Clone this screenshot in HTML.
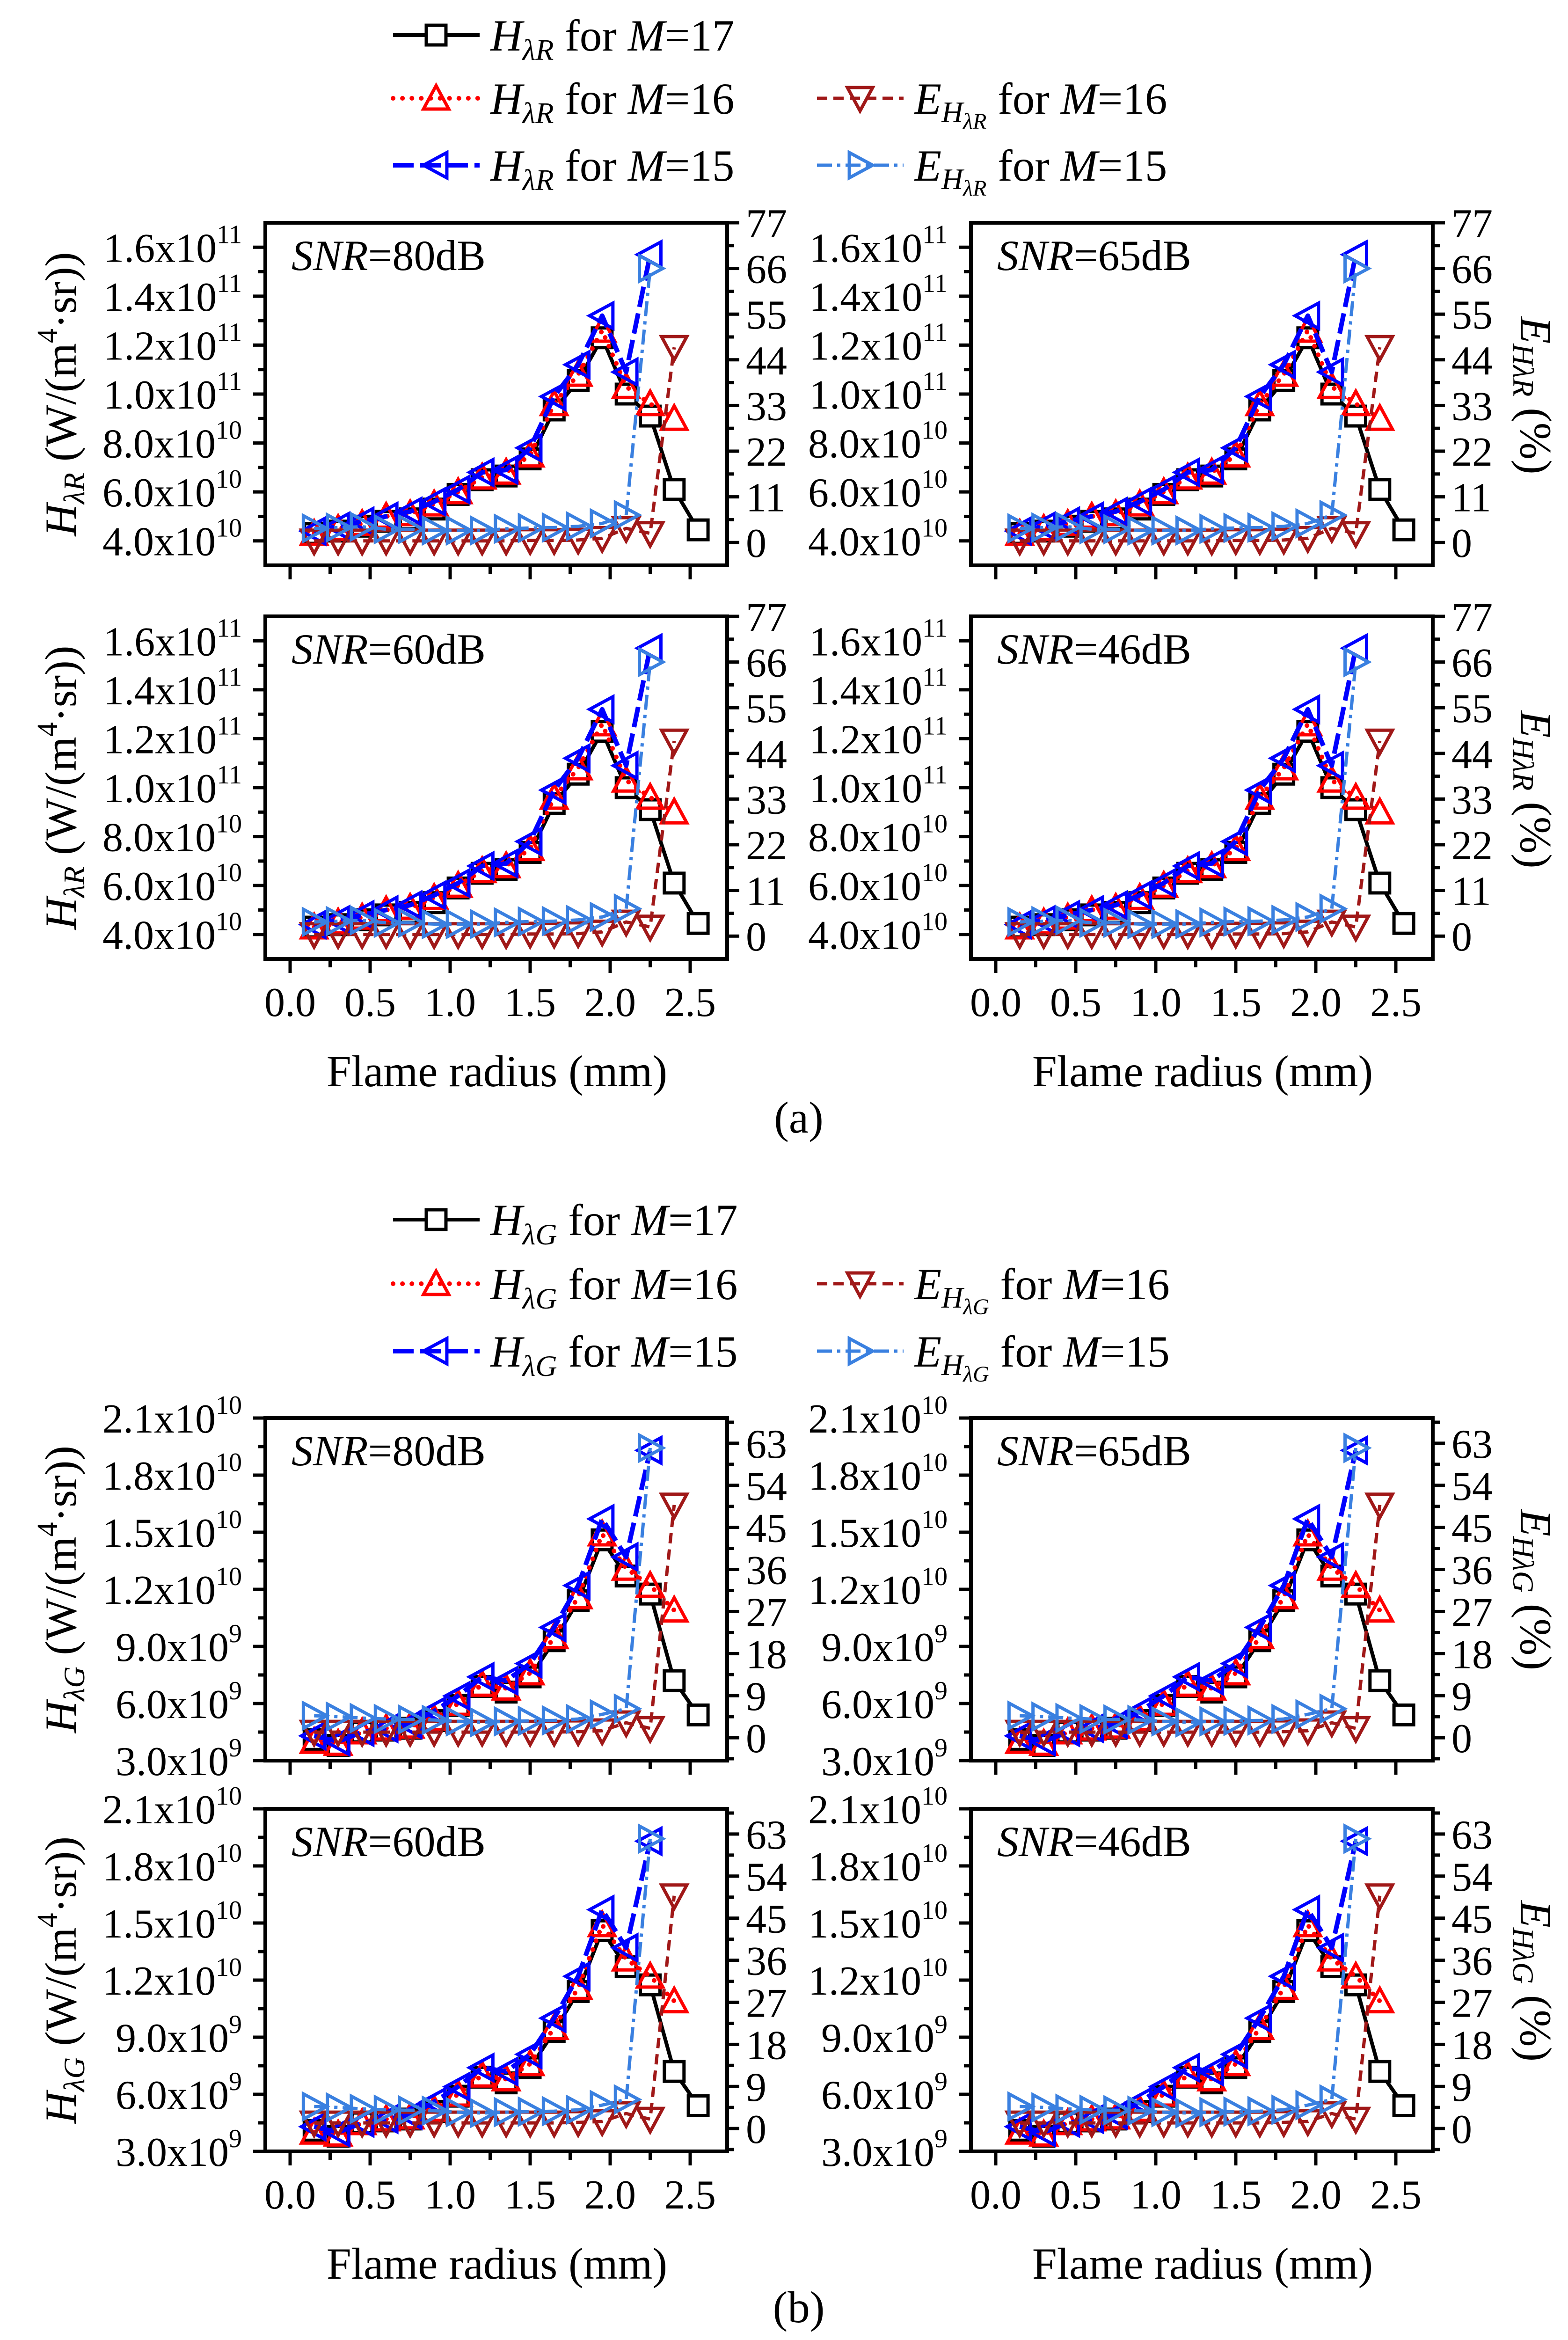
<!DOCTYPE html>
<html>
<head>
<meta charset="utf-8">
<style>
  html, body { margin: 0; padding: 0; background: #fff; overflow: hidden; }
  svg { display: block; }
  text { font-family: "Liberation Serif", "DejaVu Serif", serif; fill: #000; }
</style>
</head>
<body>
<svg id="fig" xmlns="http://www.w3.org/2000/svg" width="3351" height="5019" viewBox="0 0 3351 5019">
  <rect x="0" y="0" width="3351" height="5019" fill="#fff"/>
</svg>
<script>
// ---------- data ----------
const x17 = [0.15,0.30,0.45,0.60,0.75,0.90,1.05,1.20,1.35,1.50,1.65,1.80,1.95,2.10,2.25,2.40,2.55];
const x16 = [0.15,0.30,0.45,0.60,0.75,0.90,1.05,1.20,1.35,1.50,1.65,1.80,1.95,2.10,2.25,2.40];
const x15 = [0.15,0.30,0.45,0.60,0.75,0.90,1.05,1.20,1.35,1.50,1.65,1.80,1.95,2.10,2.25];

// (a) red channel, H in 1e10 W/(m4 sr), E in %
const aH17 = [4.3,4.4,4.6,4.8,4.9,5.3,5.9,6.5,6.65,7.35,9.35,10.55,12.3,10.0,9.1,6.1,4.45];
const aH16 = [4.3,4.5,4.7,5.0,5.1,5.5,6.0,6.6,6.8,7.5,9.6,10.8,12.6,10.3,9.6,9.0];
const aH15 = [4.4,4.6,4.8,5.0,5.2,5.6,6.1,6.8,6.9,7.8,9.9,11.2,13.2,10.9,15.7];
const aE16 = [0.4,0.4,0.4,0.4,0.4,0.4,0.4,0.4,0.4,0.5,0.5,0.6,1.0,3.4,2.2,47];
const aE15 = [3.4,3.6,3.8,3.2,3.2,2.9,2.9,2.9,3.3,3.5,3.6,3.9,4.6,6.6,66];

// (b) green channel, H in 1e9 W/(m4 sr), E in %
const bH17 = [4.1,3.8,4.5,4.6,4.7,5.1,5.9,6.9,6.6,7.4,9.3,11.4,14.6,12.7,11.75,7.2,5.4];
const bH16 = [4.0,3.9,4.5,4.7,4.8,5.2,6.0,7.0,6.8,7.6,9.5,11.6,14.9,13.1,12.2,10.9];
const bH15 = [4.3,4.0,4.5,4.7,4.9,5.6,6.4,7.4,7.2,8.1,10.0,12.2,15.7,13.7,19.3];
const bE16 = [1.2,1.2,1.2,1.2,1.2,1.2,1.2,1.2,1.2,1.2,1.2,1.3,1.5,3.2,2.0,49.8];
const bE15 = [4.7,4.5,4.2,4.0,3.9,3.8,3.5,3.3,3.5,3.6,3.7,4.0,5.0,6.2,62];

const snrLabels = ['80dB','65dB','60dB','46dB'];

const xTicks = [0.0,0.5,1.0,1.5,2.0,2.5];
const xTickLabels = ['0.0','0.5','1.0','1.5','2.0','2.5'];

const aLeftTicks = [4,6,8,10,12,14,16];
const aLeftMant = ['4.0','6.0','8.0','1.0','1.2','1.4','1.6'];
const aLeftExp = ['10','10','10','11','11','11','11'];
const aRightTicks = [0,11,22,33,44,55,66,77];

const bLeftTicks = [3,6,9,12,15,18,21];
const bLeftMant = ['3.0','6.0','9.0','1.2','1.5','1.8','2.1'];
const bLeftExp = ['9','9','9','10','10','10','10'];
const bRightTicks = [0,9,18,27,36,45,54,63];

// ---------- helpers ----------
const NS = 'http://www.w3.org/2000/svg';
const svg = document.getElementById('fig');
function el(tag, attrs, parent) {
  const e = document.createElementNS(NS, tag);
  for (const k in attrs) e.setAttribute(k, attrs[k]);
  (parent || svg).appendChild(e);
  return e;
}
const PW = 987, PH = 732;
const XD = [-0.155, 2.731];

function marker(g, type, cx, cy, color) {
  let m;
  const s = 21, t = 27;
  if (type === 'square') {
    m = el('rect', {x: cx - s, y: cy - s, width: 2*s, height: 2*s, fill: '#fff', stroke: color, 'stroke-width': 7}, g);
  } else {
    let pts;
    if (type === 'up') pts = [[cx, cy - t], [cx - t, cy + t*0.85], [cx + t, cy + t*0.85]];
    if (type === 'down') pts = [[cx, cy + t], [cx - t, cy - t*0.85], [cx + t, cy - t*0.85]];
    if (type === 'left') pts = [[cx - t, cy], [cx + t*0.85, cy - t], [cx + t*0.85, cy + t]];
    if (type === 'right') pts = [[cx + t, cy], [cx - t*0.85, cy - t], [cx - t*0.85, cy + t]];
    m = el('polygon', {points: pts.map(p => p.join(',')).join(' '), fill: 'none', stroke: color, 'stroke-width': 7, 'stroke-linejoin': 'miter'}, g);
  }
  return m;
}

const SERIES_STYLE = {
  h17: {color: '#000000', dash: null, w: 8, mk: 'square'},
  h16: {color: '#ff0000', dash: '0.1 20', w: 10, mk: 'up', cap: 'round'},
  h15: {color: '#0000ff', dash: '44 14', w: 10, mk: 'left'},
  e16: {color: '#a01818', dash: '22 13', w: 7, mk: 'down'},
  e15: {color: '#3a80e0', dash: '32 11 7 11', w: 7, mk: 'right'}
};

function panel(name, x0, y0, yDomL, yDomR, lt, lm, le, rt, rMinorStep, lMinorStep, snr, data, showXLabels) {
  const g = el('g', {});
  
  
  const sx = v => x0 + (v - XD[0]) / (XD[1] - XD[0]) * PW;
  const syL = v => y0 + PH - (v - yDomL[0]) / (yDomL[1] - yDomL[0]) * PH;
  const syR = v => y0 + PH - (v - yDomR[0]) / (yDomR[1] - yDomR[0]) * PH;

  const fr = el('rect', {x: x0, y: y0, width: PW, height: PH, fill: 'none', stroke: '#000', 'stroke-width': 8}, g);
  
  

  const xt = el('g', {}, g);
  
  
  for (let i = 0; i < xTicks.length; i++) {
    const v = xTicks[i];
    el('line', {x1: sx(v), x2: sx(v), y1: y0 + PH, y2: y0 + PH + 30, stroke: '#000', 'stroke-width': 7}, xt);
    if (v + 0.25 < XD[1]) el('line', {x1: sx(v + 0.25), x2: sx(v + 0.25), y1: y0 + PH, y2: y0 + PH + 18, stroke: '#000', 'stroke-width': 7}, xt);
    if (showXLabels) {
      const t = el('text', {x: sx(v), y: y0 + PH + 122, 'font-size': 88, 'text-anchor': 'middle'}, xt);
      t.textContent = xTickLabels[i];
      
      
    }
  }
  if (showXLabels) {
    const xl = el('text', {x: x0 + 495, y: y0 + PH + 272, 'font-size': 95, 'text-anchor': 'middle'}, g);
    xl.textContent = 'Flame radius (mm)';
    
    
  }

  const ly = el('g', {}, g);
  
  
  for (let i = 0; i < lt.length; i++) {
    const v = lt[i];
    el('line', {x1: x0 - 26, x2: x0, y1: syL(v), y2: syL(v), stroke: '#000', 'stroke-width': 7}, ly);
    const mv = v + lMinorStep;
    if (mv < yDomL[1]) el('line', {x1: x0 - 15, x2: x0, y1: syL(mv), y2: syL(mv), stroke: '#000', 'stroke-width': 7}, ly);
    const t = el('text', {x: x0 - 50, y: syL(v) + 31, 'font-size': 88, 'text-anchor': 'end'}, ly);
    t.innerHTML = lm[i] + 'x10<tspan dy="-40" font-size="56">' + le[i] + '</tspan>';
    
    
  }
  const ry = el('g', {}, g);
  
  
  for (let i = 0; i < rt.length; i++) {
    const v = rt[i];
    el('line', {x1: x0 + PW, x2: x0 + PW + 26, y1: syR(v), y2: syR(v), stroke: '#000', 'stroke-width': 7}, ry);
    const mv = v + rMinorStep, mv2 = v - rMinorStep;
    if (mv < yDomR[1]) el('line', {x1: x0 + PW, x2: x0 + PW + 15, y1: syR(mv), y2: syR(mv), stroke: '#000', 'stroke-width': 7}, ry);
    if (i === 0 && mv2 > yDomR[0]) el('line', {x1: x0 + PW, x2: x0 + PW + 15, y1: syR(mv2), y2: syR(mv2), stroke: '#000', 'stroke-width': 7}, ry);
    const t = el('text', {x: x0 + PW + 40, y: syR(v) + 31, 'font-size': 88, 'text-anchor': 'start'}, ry);
    t.textContent = String(v);
    
    
  }

  const sl = el('text', {x: x0 + 56, y: y0 + 101, 'font-size': 92}, g);
  sl.innerHTML = '<tspan font-style="italic">SNR</tspan>=' + snr;
  
  

  const order = [['h17', x17, data.h17, 'L'], ['h16', x16, data.h16, 'L'], ['h15', x15, data.h15, 'L'], ['e16', x16, data.e16, 'R'], ['e15', x15, data.e15, 'R']];
  for (const [key, xs, ys, ax] of order) {
    const st = SERIES_STYLE[key];
    const sg = el('g', {}, g);
    
    
    const fy = ax === 'L' ? syL : syR;
    const pts = xs.map((x, i) => sx(x).toFixed(1) + ',' + fy(ys[i]).toFixed(1)).join(' ');
    const attrs = {points: pts, fill: 'none', stroke: st.color, 'stroke-width': st.w, 'stroke-linejoin': 'round'};
    if (st.dash) attrs['stroke-dasharray'] = st.dash;
    if (st.cap) attrs['stroke-linecap'] = st.cap;
    const pl = el('polyline', attrs, sg);
    
    
    for (let i = 0; i < xs.length; i++) {
      const m = marker(sg, st.mk, sx(xs[i]), fy(ys[i]), st.color);
      
      
    }
  }
}

function leftTitle(cy, chan) {
  const t = el('text', {x: 0, y: 0, 'font-size': 95, 'text-anchor': 'middle', transform: 'translate(162,' + cy + ') rotate(-90)'});
  t.innerHTML = '<tspan font-style="italic">H</tspan><tspan font-style="italic" font-size="64" dy="18">λ' + chan + '</tspan><tspan dy="-18"> (W/(m</tspan><tspan font-size="62" dy="-40">4</tspan><tspan dy="40">·sr))</tspan>';
  
  
}
function rightTitle(cy, chan) {
  const t = el('text', {x: 0, y: 0, 'font-size': 95, 'text-anchor': 'middle', transform: 'translate(3250,' + cy + ') rotate(90)'});
  t.innerHTML = '<tspan font-style="italic">E</tspan><tspan font-style="italic" font-size="64" dy="16">Hλ' + chan + '</tspan><tspan dy="-16"> (%)</tspan>';
  
  
}

function legend(y1, y2, y3, chan, prefix) {
  const g = el('g', {});
  
  
  const entries = [
    ['h17', 840, y1, 'H', 'M=17'],
    ['h16', 840, y2, 'H', 'M=16'],
    ['h15', 840, y3, 'H', 'M=15'],
    ['e16', 1746, y2, 'E', 'M=16'],
    ['e15', 1746, y3, 'E', 'M=15']
  ];
  for (const [key, lx, cy, kind, mtxt] of entries) {
    const st = SERIES_STYLE[key];
    const eg = el('g', {}, g);
    
    
    const attrs = {x1: lx, x2: lx + 185, y1: cy, y2: cy, stroke: st.color, 'stroke-width': st.w};
    if (st.dash) attrs['stroke-dasharray'] = st.dash;
    if (st.cap) attrs['stroke-linecap'] = st.cap;
    el('line', attrs, eg);
    marker(eg, st.mk, lx + 92, cy, st.color);
    const t = el('text', {x: lx + 208, y: cy + 33, 'font-size': 95}, eg);
    const m = '<tspan font-style="italic">M</tspan>=' + mtxt.slice(2);
    if (kind === 'H') {
      t.innerHTML = '<tspan font-style="italic">H</tspan><tspan font-style="italic" font-size="64" dy="20">λ' + chan + '</tspan><tspan dy="-20"> for </tspan>' + m;
    } else {
      t.innerHTML = '<tspan font-style="italic">E</tspan><tspan font-style="italic" font-size="64" dy="18">H</tspan><tspan font-style="italic" font-size="48" dy="14">λ' + chan + '</tspan><tspan dy="-32"> for </tspan>' + m;
    }
    
    
  }
}

// ---------- build ----------
const aData = {h17: aH17, h16: aH16, h15: aH15, e16: aE16, e15: aE15};
const bData = {h17: bH17, h16: bH16, h15: bH15, e16: bE16, e15: bE15};
const cols = [567, 2075];
const aRows = [476, 1317];
const bRows = [3030, 3865];
const aL = [3, 17], aR = [-5.5, 77];
const bL = [3, 21], bR = [-4.9, 68.4];

legend(75, 210, 353, 'R', 'a');
for (let r = 0; r < 2; r++) for (let c = 0; c < 2; c++) {
  panel('panel-a-snr-' + snrLabels[r*2 + c], cols[c], aRows[r], aL, aR, aLeftTicks, aLeftMant, aLeftExp, aRightTicks, 5.5, 1, snrLabels[r*2 + c], aData, r === 1);
}
leftTitle(842, 'R'); leftTitle(1683, 'R');
rightTitle(845, 'R'); rightTitle(1687, 'R');
const la = el('text', {x: 1707, y: 2420, 'font-size': 95, 'text-anchor': 'middle'});
la.textContent = '(a)';



legend(2606, 2743, 2887, 'G', 'b');
for (let r = 0; r < 2; r++) for (let c = 0; c < 2; c++) {
  panel('panel-b-snr-' + snrLabels[r*2 + c], cols[c], bRows[r], bL, bR, bLeftTicks, bLeftMant, bLeftExp, bRightTicks, 4.5, 1.5, snrLabels[r*2 + c], bData, r === 1);
}
leftTitle(3396, 'G'); leftTitle(4231, 'G');
rightTitle(3397, 'G'); rightTitle(4233, 'G');
const lb = el('text', {x: 1707, y: 4962, 'font-size': 95, 'text-anchor': 'middle'});
lb.textContent = '(b)';


</script>
</body>
</html>
